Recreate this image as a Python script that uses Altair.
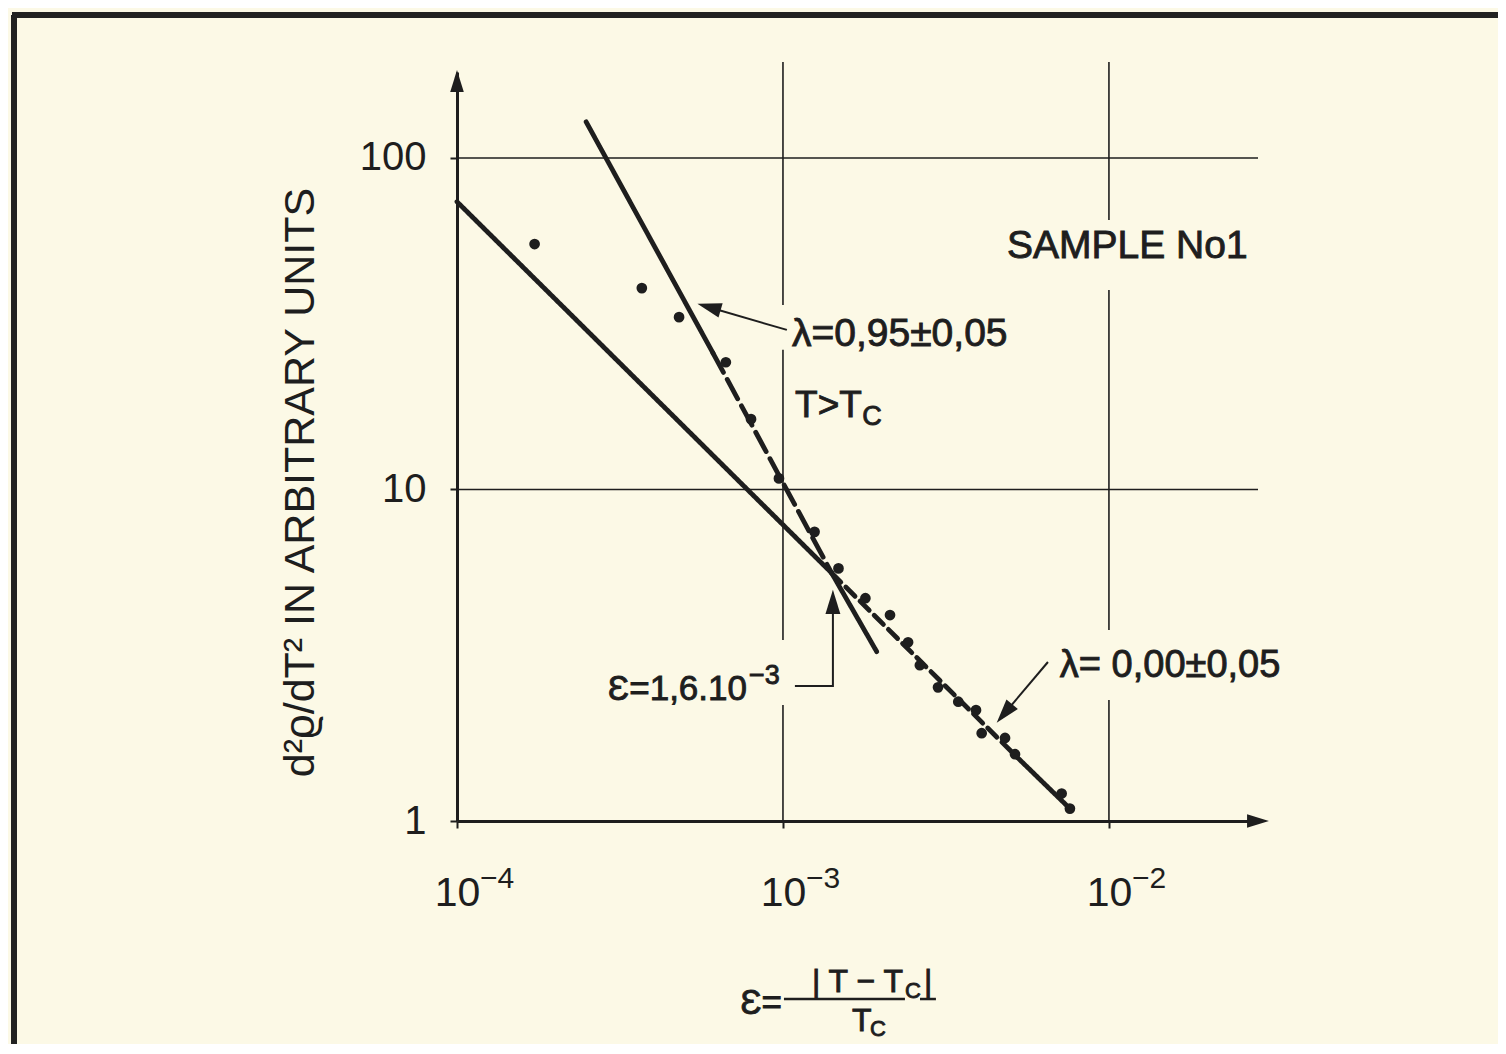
import math
import altair as alt
import pandas as pd

# ---------------- data ----------------
eps_points = [1.73e-4, 3.69e-4, 4.8e-4, 6.68e-4, 7.98e-4, 9.72e-4, 1.25e-3, 1.48e-3,
              1.79e-3, 2.13e-3, 2.42e-3, 2.63e-3, 2.99e-3, 3.45e-3, 3.91e-3, 4.07e-3,
              4.80e-3, 5.15e-3, 7.16e-3, 7.59e-3]
d2rho_points = [55, 40.5, 33.1, 24.2, 16.3, 10.8, 7.45, 5.78,
                4.70, 4.18, 3.46, 2.95, 2.53, 2.29, 2.16, 1.84,
                1.78, 1.59, 1.21, 1.09]

# fitted line lambda = 0.95 (steep)
steep_x = [2.49e-4, 6.1e-4, 1.41e-3, 1.94e-3]
steep_y = [128.5, 25.8, 5.6, 3.24]
steep_styles = ["solid", "dash_long", "solid"]

# fitted line lambda = 0.00 (shallow)
shallow_x = [1.0e-4, 1.41e-3, 5.15e-3, 7.59e-3]
shallow_y = [73.8, 5.6, 1.58, 1.09]
shallow_styles = ["solid", "dash_short", "solid"]

x_ticks = [1e-4, 1e-3, 1e-2]
x_tick_labels = ["10", "10", "10"]
x_tick_exponents = ["−4", "−3", "−2"]
y_ticks = [1, 10, 100]
y_tick_labels = ["1", "10", "100"]

X_MIN, X_MAX = 1e-4, 0.02866
Y_MIN, Y_MAX = 1.0, 181.7
GRID_TOP = 194.8

# grid lines as drawn (broken where the lettering sits)
vgrid_x = [1e-3, 1e-3, 1e-3, 1e-2, 1e-2, 1e-2]
vgrid_y1 = [GRID_TOP, 26.4, 2.239, GRID_TOP, 40.0, 2.317]
vgrid_y2 = [36.0, 3.516, 1.0, 65.0, 3.77, 1.0]
hgrid_y = [10, 100]

INK = "#1e1e1e"
PAPER = "#fcf9e6"
FONT = "Liberation Sans"

# ---------------- tables ----------------
points_df = pd.DataFrame({"x": eps_points, "y": d2rho_points})
vgrid_df = pd.DataFrame({"x": vgrid_x, "y": vgrid_y1, "y2": vgrid_y2})
hgrid_df = pd.DataFrame({"y": hgrid_y, "x": [X_MIN] * len(hgrid_y), "x2": [X_MAX] * len(hgrid_y)})

rows = []
for name, xs_, ys_, styles in [("steep", steep_x, steep_y, steep_styles),
                               ("shallow", shallow_x, shallow_y, shallow_styles)]:
    for i, st in enumerate(styles):
        seg = f"{name}{i}"
        rows.append(dict(x=xs_[i], y=ys_[i], seg=seg, style=st, order=0))
        rows.append(dict(x=xs_[i + 1], y=ys_[i + 1], seg=seg, style=st, order=1))
lines_df = pd.DataFrame(rows)

# annotation leader lines (data coordinates)
leader_df = pd.DataFrame([
    dict(seg="l95", order=0, x=1.028e-3, y=30.3),
    dict(seg="l95", order=1, x=5.9e-4, y=35.5),
    dict(seg="l00", order=0, x=6.5e-3, y=3.017),
    dict(seg="l00", order=1, x=4.78e-3, y=2.11),
    dict(seg="eps", order=0, x=1.088e-3, y=2.554),
    dict(seg="eps", order=1, x=1.423e-3, y=2.554),
    dict(seg="eps", order=2, x=1.423e-3, y=4.40),
])
bars_df = pd.DataFrame([
    dict(seg="b1", order=0, x=1.007e-3, y=0.2904),
    dict(seg="b1", order=1, x=2.367e-3, y=0.2904),
    dict(seg="b2", order=0, x=2.632e-3, y=0.2904),
    dict(seg="b2", order=1, x=2.946e-3, y=0.2904),
])

heads_df = pd.DataFrame([
    dict(x=5.93e-4, y=35.5, ang=286, sz=580),
    dict(x=4.78e-3, y=2.11, ang=220, sz=580),
    dict(x=1.423e-3, y=4.58, ang=0, sz=580),
    dict(x=X_MAX, y=Y_MIN, ang=90, sz=480),
    dict(x=X_MIN, y=170.7, ang=0, sz=480),
])

text_left = pd.DataFrame([
    dict(x=4.866e-3, y=49.9, text="SAMPLE No1", fs=39),
    dict(x=1.066e-3, y=27.1, text="λ=0,95±0,05", fs=39),
    dict(x=1.089e-3, y=16.55, text="T>T", fs=37),
    dict(x=1.75e-3, y=15.65, text="C", fs=27),
    dict(x=7.07e-3, y=2.719, text="λ= 0,00±0,05", fs=38),
    dict(x=7.865e-4, y=2.589, text="−3", fs=27),
    dict(x=2.367e-3, y=0.2924, text="C", fs=22),
    dict(x=2.707e-3, y=0.3049, text="|", fs=32),
    dict(x=1.628e-3, y=0.2326, text="T", fs=32),
    dict(x=1.849e-3, y=0.2246, text="C", fs=22),
])
text_right = pd.DataFrame([
    dict(x=7.755e-4, y=2.317, text="Ɛ=1,6.10", fs=35),
    dict(x=9.93e-4, y=0.2617, text="Ɛ=", fs=35),
    dict(x=2.334e-3, y=0.3049, text="| T − T", fs=32),
])
# exponents of the x tick labels, placed at the tick values
exp_df = pd.DataFrame({"x": x_ticks, "y": [0.628] * len(x_ticks), "text": x_tick_exponents})


def expr_for(ticks, labels):
    e = ""
    for v, l in zip(ticks, labels):
        e += f"abs(log(datum.value)/LN10 - ({math.log10(v)})) < 0.01 ? '{l}' : "
    return e + "''"


xscale = alt.Scale(type="log", domain=[X_MIN, X_MAX], nice=False)
yscale = alt.Scale(type="log", domain=[Y_MIN, Y_MAX], nice=False)

x_axis = alt.Axis(values=x_ticks, labelExpr=expr_for(x_ticks, x_tick_labels), title=None,
                  grid=False, domainColor=INK, domainWidth=3,
                  tickColor=INK, tickWidth=2, tickSize=7, labelFont=FONT, labelFontSize=41,
                  labelColor=INK, labelAlign="center", labelBaseline="alphabetic",
                  labelPadding=77, labelFlush=False, labelOverlap=False)
y_axis = alt.Axis(values=y_ticks, labelExpr=expr_for(y_ticks, y_tick_labels),
                  title="d²ϱ/dT²  IN ARBITRARY UNITS",
                  grid=False, domainColor=INK, domainWidth=3,
                  tickColor=INK, tickWidth=2, tickSize=7, labelFont=FONT, labelFontSize=40,
                  labelColor=INK, labelPadding=24, labelFlush=False, labelOverlap=False,
                  titleFont=FONT, titleFontSize=43, titleFontWeight="normal", titleColor=INK,
                  titleAngle=270, titleX=-157, titleY=410, titleAlign="center",
                  titleBaseline="middle")

X = alt.X("x:Q", scale=xscale, axis=x_axis)
Y = alt.Y("y:Q", scale=yscale, axis=y_axis)

vgrid = alt.Chart(vgrid_df).mark_rule(color=INK, strokeWidth=1.6).encode(
    x=X, y=Y, y2="y2:Q")
hgrid = alt.Chart(hgrid_df).mark_rule(color=INK, strokeWidth=1.6).encode(
    y=Y, x=X, x2="x2:Q")

points = alt.Chart(points_df).mark_circle(size=115, color=INK, opacity=1).encode(x=X, y=Y)

fit_lines = alt.Chart(lines_df).mark_line(color=INK, strokeWidth=4.8, strokeCap="round").encode(
    x=X, y=Y, detail="seg:N", order="order:Q",
    strokeDash=alt.StrokeDash("style:N", legend=None,
                              scale=alt.Scale(domain=["solid", "dash_long", "dash_short"],
                                              range=[[1, 0], [22, 8], [13, 7]])))

leaders = alt.Chart(leader_df).mark_line(color=INK, strokeWidth=2).encode(
    x=X, y=Y, detail="seg:N", order="order:Q")

bars = alt.Chart(bars_df).mark_line(color=INK, strokeWidth=2.5).encode(
    x=X, y=Y, detail="seg:N", order="order:Q")

heads = alt.Chart(heads_df).mark_point(shape="M0,-1L0.62,1L-0.62,1Z", filled=True, color=INK,
                                       opacity=1, strokeWidth=0).encode(
    x=X, y=Y, angle=alt.Angle("ang:Q", scale=None), size=alt.Size("sz:Q", scale=None))


def text_layer(df, align):
    return alt.Chart(df).mark_text(align=align, baseline="alphabetic", font=FONT,
                                   fill=INK, stroke=INK, strokeWidth=0.9).encode(
        x=X, y=Y, text="text:N", size=alt.Size("fs:Q", scale=None))


t_left = text_layer(text_left, "left")
t_right = text_layer(text_right, "right")
t_exp = alt.Chart(exp_df).mark_text(align="left", baseline="alphabetic", font=FONT,
                                    fontSize=30, dx=23, color=INK).encode(
    x=X, y=Y, text="text:N")

frame_left = alt.Chart(points_df).mark_rule(color="#222", strokeWidth=5).encode(
    x=alt.value(-443), y=alt.value(-57), y2=alt.value(972))
frame_top = alt.Chart(points_df).mark_rule(color="#222", strokeWidth=5).encode(
    x=alt.value(-445), x2=alt.value(1060), y=alt.value(-57))

chart = alt.layer(
    frame_left, frame_top, vgrid, hgrid, fit_lines, leaders, bars, points, heads,
    t_left, t_right, t_exp
).properties(
    width=801, height=749,
    padding={"left": 449, "top": 64, "right": 240, "bottom": 223},
    autosize=alt.AutoSizeParams(type="none"),
).configure(background=PAPER).configure_view(stroke=None)

chart.save("out.html", embed_options={"renderer": "svg", "actions": False})
